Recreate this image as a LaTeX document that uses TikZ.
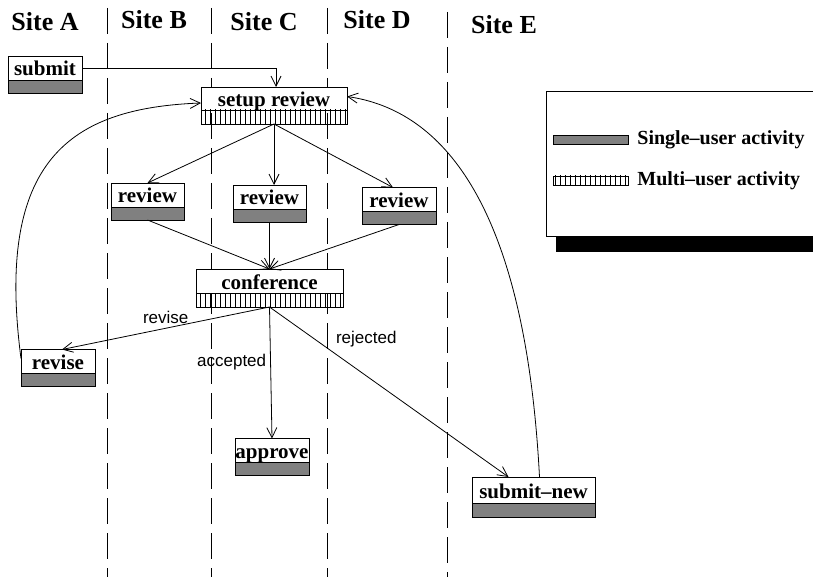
\documentclass[tikz,border=0pt]{standalone}
\usepackage{fontspec}
\setmainfont{Liberation Serif}
\newfontfamily\labelfont{Liberation Sans}
\usetikzlibrary{arrows.meta,positioning,patterns.meta}
\tikzset{
    act/.style={draw,fill=white,font=\fontsize{10.5}{12}\selectfont\bfseries,minimum width=#1,minimum height=12pt,
        text height=8pt,text depth=0pt,inner sep=0pt,outer sep=0pt},
    single/.style={draw,fill=gray,minimum width=#1,minimum height=6.5pt,inner sep=0pt,outer sep=0pt},
    multi/.style={draw,pattern={Lines[angle=90,distance=2.5pt,line width=0.5pt]},minimum width=#1,minimum height=7pt,inner sep=0pt,outer sep=0pt},
    site/.style={font=\fontsize{13}{15}\selectfont\bfseries},
    lane/.style={dash pattern=on 13pt off 4.5pt},
    lbl/.style={font=\labelfont\fontsize{8.5}{10}\selectfont,inner sep=2pt},
    keytext/.style={font=\bfseries,inner sep=0pt,anchor=west},
    arr/.style={-{Straight Barb[length=5pt,width=5pt]},thin}
}

\begin{document}
\begin{tikzpicture}[x=0.5pt,y=-0.5pt]
    \useasboundingbox (0,0) rectangle (813,577);
    \clip (0,0) rectangle (813,577);

    % sites and swim lanes
    \node[site] (sitea) at (45,22) {Site A};
    \node[site] (siteb) at (154,20) {Site B};
    \node[site] (sitec) at (264,22) {Site C};
    \node[site] (sited) at (377,20) {Site D};
    \node[site] (sitee) at (504,25) {Site E};
    \draw[lane] (107,8) -- (107,577);
    \draw[lane] (211,8) -- (211,577);
    \draw[lane] (327,8) -- (327,577);
    \draw[lane] (447,12) -- (447,577);

    % activities
    \node[act=37pt] (submit) at (45,68) {submit};
    \node[single=37pt,below=0pt of submit] (submitbar) {};
    \node[act=73pt,minimum height=11.5pt] (setup) at (274,98.5) {setup review};
    \node[multi=73pt,below=0pt of setup] (setupbar) {};

    \node[act=36.5pt] (reviewb) at (147.5,195) {review};
    \node[single=36.5pt,below=0pt of reviewb] (reviewbbar) {};
    \node[act=36.5pt] (reviewc) at (269.5,197) {review};
    \node[single=36.5pt,below=0pt of reviewc] (reviewcbar) {};
    \node[act=37pt] (reviewd) at (399,199.5) {review};
    \node[single=37pt,below=0pt of reviewd] (reviewdbar) {};

    \node[act=73.5pt] (conf) at (269.5,281) {conference};
    \node[multi=73.5pt,below=0pt of conf] (confbar) {};

    \node[act=37pt] (revise) at (58,361.5) {revise};
    \node[single=37pt,below=0pt of revise] (revisebar) {};
    \node[act=37pt] (approve) at (272,450.5) {approve};
    \node[single=37pt,below=0pt of approve] (approvebar) {};
    \node[act=61.5pt,minimum height=13pt] (submitnew) at (533.5,490) {submit--new};
    \node[single=61.5pt,minimum height=7pt,below=0pt of submitnew] (submitnewbar) {};

    % flow
    \draw[arr] (submit.east) -| ([xshift=1pt]setup.north);
    \draw[arr] (setupbar.south) -- (reviewb.north);
    \draw[arr] (setupbar.south) -- (setupbar.south |- reviewc.north);
    \draw[arr] (setupbar.south) -- ([xshift=-3pt]reviewd.north);
    \draw[arr] (reviewbbar.south) -- (conf.north);
    \draw[arr] (reviewcbar.south) -- (conf.north);
    \draw[arr] (reviewdbar.south) -- (conf.north);
    \draw[arr] (confbar.south) -- node[lbl,above,pos=0.5]{revise} ([xshift=2pt]revise.north);
    \draw[arr] (confbar.south) -- node[lbl,left,pos=0.42]{accepted} (approve.north);
    \draw[arr] (confbar.south) -- node[lbl,above right,pos=0.26]{rejected} ([xshift=-12.5pt]submitnew.north);
    \draw[arr] ([yshift=-4.5pt]revise.north west) .. controls (-5,160) and (70,108) .. ([yshift=-2.25pt]setup.west);
    \draw[arr] ([xshift=3pt]submitnew.north) .. controls (525,200) and (440,110) .. ([yshift=1pt]setup.east);

    % legend
    \node[draw,fill=white,minimum width=140pt,minimum height=72.5pt,outer sep=0pt] (legend) at (686,163.5) {};
    \fill ([xshift=5pt]legend.south west) rectangle ([yshift=-8pt]legend.south east);
    \node[single=37.5pt,minimum height=4.5pt] (singlekey) at (590.5,139.5) {};
    \node[keytext,right=4.5pt of singlekey] (singletext) {Single--user activity};
    \node[multi=37.5pt,minimum height=4.5pt] (multikey) at (590.5,180.5) {};
    \node[keytext,right=4.5pt of multikey] (multitext) {Multi--user activity};
\end{tikzpicture}
\end{document}
